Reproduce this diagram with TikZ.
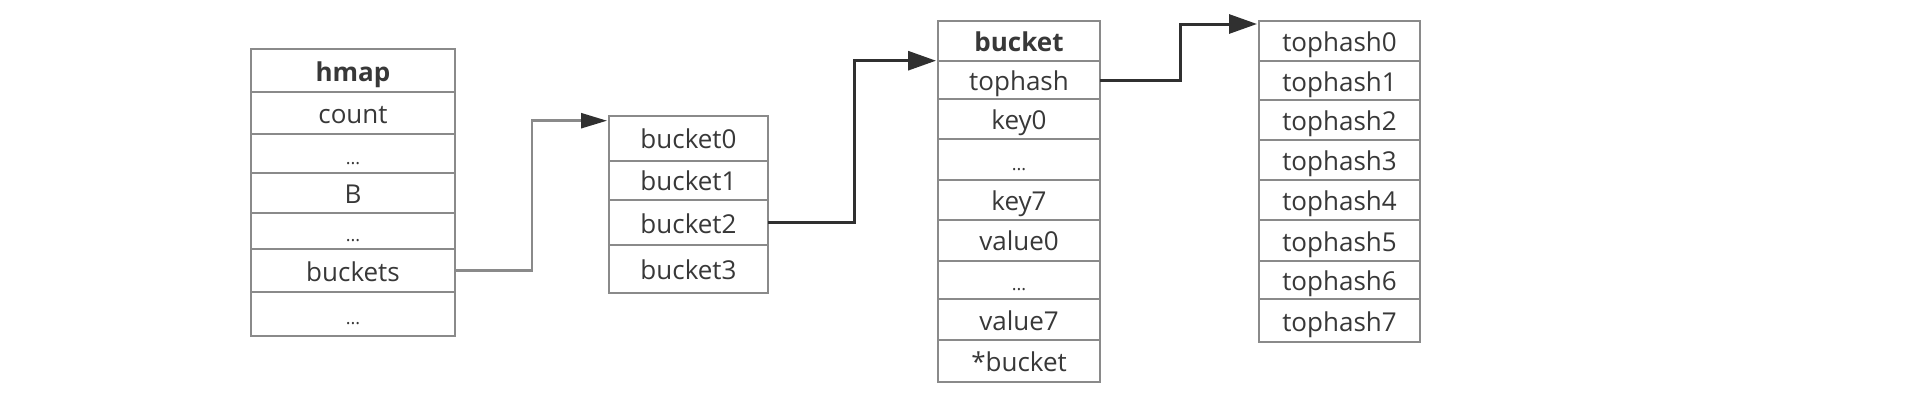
\documentclass[tikz,border=0pt]{standalone}
\usepackage{fontspec}
\setmainfont{Open Sans}
\usetikzlibrary{arrows.meta}
\definecolor{boxgray}{HTML}{8A8A8A}
\definecolor{txtgray}{HTML}{383838}
\definecolor{arrdark}{HTML}{303030}
\newcommand{\dotsmall}{{\fontsize{18}{20}\selectfont ...}}
\begin{document}
\begin{tikzpicture}[x=1pt,y=-1pt,
  cell/.style={draw=boxgray,line width=2pt,rectangle,inner sep=0pt,outer sep=0pt,
    text=txtgray,font=\fontsize{26}{30}\selectfont,text height=21pt,text depth=0pt},
  hmcell/.style={cell,minimum width=204pt},
  bacell/.style={cell,minimum width=159pt},
  bscell/.style={cell,minimum width=162pt},
  thcell/.style={cell,minimum width=161pt},
  lightarrow/.style={draw=boxgray,line width=2.5pt,-{Triangle[length=26pt,width=15pt,color=arrdark]},shorten >=2pt},
  darkarrow/.style={draw=arrdark,line width=3pt,-{Triangle[length=28pt,width=19pt]},shorten >=2pt}
]
\useasboundingbox (0,0) rectangle (1918,410);
% hmap
\node[hmcell,minimum height=43pt] (hm0) at (353,70.5) {\bfseries hmap};
\node[hmcell,minimum height=42pt] (hm1) at (353,113) {count};
\node[hmcell,minimum height=39pt] (hm2) at (353,153.5) {\dotsmall};
\node[hmcell,minimum height=40pt] (hm3) at (353,193) {B};
\node[hmcell,minimum height=36pt] (hm4) at (353,231) {\dotsmall};
\node[hmcell,minimum height=43pt] (hm5) at (353,270.5) {buckets};
\node[hmcell,minimum height=44pt] (hm6) at (353,314) {\dotsmall};
% bucket array
\node[bacell,minimum height=44.5pt] (ba0) at (688.5,138.25) {bucket0};
\node[bacell,minimum height=39.5pt] (ba1) at (688.5,180.25) {bucket1};
\node[bacell,minimum height=45pt] (ba2) at (688.5,222.5) {bucket2};
\node[bacell,minimum height=48pt] (ba3) at (688.5,269) {bucket3};
% bucket struct
\node[bscell,minimum height=40pt] (bs0) at (1019,40.7) {\bfseries bucket};
\node[bscell,minimum height=38.6pt] (bs1) at (1019,80) {tophash};
\node[bscell,minimum height=40pt] (bs2) at (1019,119.3) {key0};
\node[bscell,minimum height=40.7pt] (bs3) at (1019,159.65) {\dotsmall};
\node[bscell,minimum height=40pt] (bs4) at (1019,200) {key7};
\node[bscell,minimum height=40.7pt] (bs5) at (1019,240.35) {value0};
\node[bscell,minimum height=38.6pt] (bs6) at (1019,280) {\dotsmall};
\node[bscell,minimum height=40.7pt] (bs7) at (1019,319.65) {value7};
\node[bscell,minimum height=41.7pt] (bs8) at (1019,360.85) {*bucket};
% tophash array
\node[thcell,minimum height=40pt] (th0) at (1339.5,41) {tophash0};
\node[thcell,minimum height=39pt] (th1) at (1339.5,80.5) {tophash1};
\node[thcell,minimum height=40pt] (th2) at (1339.5,120) {tophash2};
\node[thcell,minimum height=40pt] (th3) at (1339.5,160) {tophash3};
\node[thcell,minimum height=40pt] (th4) at (1339.5,200) {tophash4};
\node[thcell,minimum height=41pt] (th5) at (1339.5,240.5) {tophash5};
\node[thcell,minimum height=38.3pt] (th6) at (1339.5,280.15) {tophash6};
\node[thcell,minimum height=42.4pt] (th7) at (1339.5,320.5) {tophash7};
% connectors
\draw[lightarrow] (hm5.east) -- ++(77,0) |- ([yshift=-4.7pt]ba0.north west);
\draw[darkarrow] (ba2.east) -- ++(86,0) |- (bs1.north west);
\draw[darkarrow] (bs1.east) -- ++(80,0) |- ([yshift=-3pt]th0.north west);
\end{tikzpicture}
\end{document}
